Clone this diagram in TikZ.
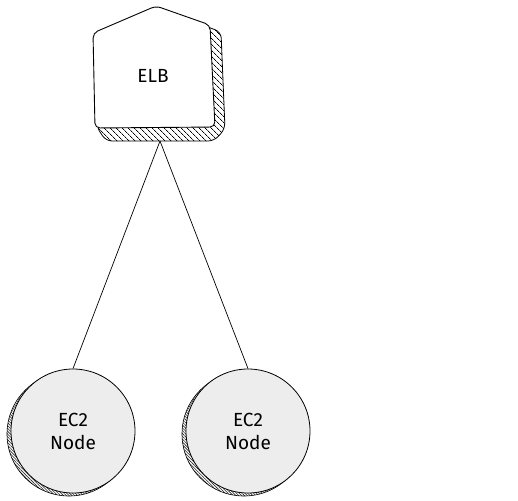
\documentclass[tikz,border=0pt]{standalone}
\usepackage{fontspec}
\setmainfont{Fira Sans}
\usetikzlibrary{patterns.meta}
\begin{document}
\begin{tikzpicture}[x=1pt,y=-1pt,
  lbl/.style={font=\fontsize{19}{23}\selectfont, align=center, text=black},
  ec2/.style={circle, draw=black, line width=0.8pt, fill=gray!14, minimum size=124pt, inner sep=0pt, lbl},
  shade/.style={pattern={Lines[angle=-45, distance=4pt, line width=0.7pt]}, pattern color=black},
  cshade/.style={pattern={Lines[angle=-45, distance=2pt, line width=0.6pt]}, pattern color=black!85},
  conn/.style={draw=black, line width=0.7pt}]
\useasboundingbox (0,0) rectangle (518,500);
% ELB shadow
\filldraw[shade, draw=black, line width=0.8pt, rounded corners=6pt]
  (200,24) -- (221,32) -- (225,129) -- (214,141) -- (106,141) -- (96,126) -- cycle;
% ELB body
\filldraw[fill=white, draw=black, line width=0.9pt, rounded corners=5pt]
  (93,33) -- (156,6) -- (210,25) -- (215,127) -- (95,128) -- cycle;
\node[lbl] (elb) at (153,76) {ELB};
\coordinate (elbb) at (160,141);
% EC2 shadows
\filldraw[cshade, draw=black, line width=0.6pt] (69,434) circle (62pt);
\filldraw[cshade, draw=black, line width=0.6pt] (244,434) circle (62pt);
% EC2 nodes
\node[ec2] (ec2a) at (73,431) {EC2\\Node};
\node[ec2] (ec2b) at (248,431) {EC2\\Node};
% connectors
\draw[conn] (elbb) -- (ec2a.north);
\draw[conn] (elbb) -- (ec2b.north);
\end{tikzpicture}
\end{document}
